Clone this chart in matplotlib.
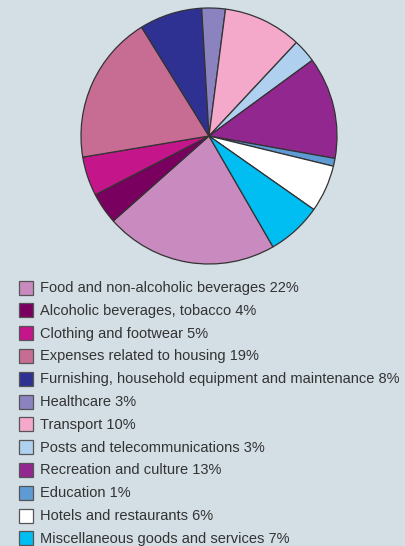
import matplotlib.pyplot as plt
from matplotlib.patches import Rectangle

labels = [
    "Food and non-alcoholic beverages",
    "Alcoholic beverages, tobacco",
    "Clothing and footwear",
    "Expenses related to housing",
    "Furnishing, household equipment and maintenance",
    "Healthcare",
    "Transport",
    "Posts and telecommunications",
    "Recreation and culture",
    "Education",
    "Hotels and restaurants",
    "Miscellaneous goods and services",
]
shares = [22, 4, 5, 19, 8, 3, 10, 3, 13, 1, 6, 7]
colors = [
    "#c98bbf", "#7a0060", "#c4168a", "#c76d94", "#2e3192", "#8b82c0",
    "#f4a9cb", "#afd0ee", "#92278f", "#5e9ad4", "#ffffff", "#00bdf2",
]

bg = "#d3dee5"
W, H = 406, 546

fig = plt.figure(figsize=(W / 100, H / 100), dpi=100, facecolor=bg)

# pie: centre (209, 136), radius 128 px
cx, cy, r = 209, 136, 128
ax = fig.add_axes([(cx - r) / W, 1 - (cy + r) / H, 2 * r / W, 2 * r / H])
ax.pie(shares, colors=colors, startangle=-60, counterclock=False,
       wedgeprops=dict(edgecolor="#333333", linewidth=0.9))
ax.set_xlim(-1, 1)
ax.set_ylim(-1, 1)
ax.set_aspect("equal")

# legend drawn by hand in pixel coords
lg = fig.add_axes([0, 0, 1, 1])
lg.set_xlim(0, W)
lg.set_ylim(H, 0)
lg.axis("off")
y0, step = 287.5, 22.8
for i, (name, val, c) in enumerate(zip(labels, shares, colors)):
    y = y0 + i * step
    lg.add_patch(Rectangle((19, y - 7), 14, 14, facecolor=c,
                           edgecolor="#555555", linewidth=0.9))
    lg.text(40, y + 0.5, f"{name} {val}%", fontsize=10.5, color="#333333",
            va="center", ha="left", family="Liberation Sans")

fig.savefig("out.png", dpi=100, facecolor=bg)
